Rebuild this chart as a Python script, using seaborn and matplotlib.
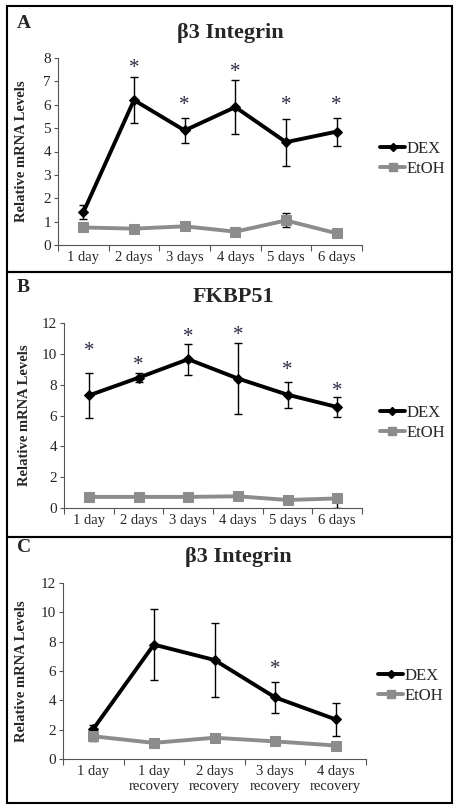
import matplotlib
matplotlib.use("Agg")
import matplotlib.pyplot as plt
from matplotlib.patches import Rectangle
from matplotlib.lines import Line2D
import seaborn as sns
import numpy as np

sns.set_style("white")
plt.rcParams['font.family'] = ['Liberation Serif', 'DejaVu Serif']

# ---- data ----
days_6 = ["1 day", "2 days", "3 days", "4 days", "5 days", "6 days"]
days_rec = ["1 day", "1 day\nrecovery", "2 days\nrecovery", "3 days\nrecovery", "4 days\nrecovery"]

# Panel A: beta3 integrin, time course
a_dex = [1.4, 6.2, 4.9, 5.9, 4.4, 4.85]
a_dex_err = [0.3, 1.0, 0.55, 1.15, 1.0, 0.6]
a_etoh = [0.75, 0.7, 0.8, 0.57, 1.05, 0.5]
a_etoh_err = [0.0, 0.0, 0.0, 0.0, 0.3, 0.0]
a_stars = [None, 7.8, 6.2, 7.6, 6.2, 6.2]

# Panel B: FKBP51, time course
b_dex = [7.3, 8.45, 9.65, 8.4, 7.35, 6.55]
b_dex_err = [1.45, 0.3, 1.0, 2.3, 0.85, 0.63]
b_etoh = [0.72, 0.72, 0.72, 0.76, 0.52, 0.62]
b_etoh_err = [0.0, 0.0, 0.0, 0.0, 0.0, 0.6]
b_etoh_err_up = [0.0, 0.0, 0.0, 0.0, 0.0, 0.1]
b_stars = [10.5, 9.6, 11.45, 11.55, 9.3, 7.9]

# Panel C: beta3 integrin, recovery
c_dex = [2.05, 7.8, 6.75, 4.2, 2.7]
c_dex_err = [0.25, 2.4, 2.5, 1.05, 1.1]
c_etoh = [1.55, 1.1, 1.45, 1.2, 0.92]
c_etoh_err = [0.3, 0.0, 0.0, 0.0, 0.0]
c_stars = [None, None, None, 6.45, None]

GRAY = "#8c8c8c"
STAR = "#2b2b45"

W, H = 458, 811
fig = plt.figure(figsize=(W / 100, H / 100), dpi=100)


def fx(px):
    return px / W


def fy(py):
    return 1 - py / H


def panel(rect_px, letter, title, title_xy, labels, dex, dex_err, etoh, etoh_err,
          stars, ymax, ystep, leg_anchor, ylab_x):
    l, t, r, b = rect_px
    ax = fig.add_axes([fx(l), fy(b), fx(r - l), (b - t) / H])
    x = np.arange(len(labels))

    ax.errorbar(x, dex, yerr=dex_err, fmt="none", ecolor="black", elinewidth=1,
                capsize=3, capthick=1, zorder=2)
    ax.errorbar(x, etoh, yerr=etoh_err, fmt="none", ecolor="black", elinewidth=1,
                capsize=3, capthick=1, zorder=2)
    sns.lineplot(x=x, y=dex, ax=ax, color="black", linewidth=2.8, marker="D",
                 markersize=5, markeredgecolor="black", zorder=3)
    sns.lineplot(x=x, y=etoh, ax=ax, color=GRAY, linewidth=2.8, marker="s",
                 markersize=7, markeredgecolor=GRAY, zorder=4)

    for i, s in enumerate(stars):
        if s is not None:
            ax.annotate("*", (i, s), xytext=(0, -4), textcoords="offset points",
                        ha="center", va="center", fontsize=15, color=STAR)

    ax.set_xlim(-0.5, len(labels) - 0.5)
    ax.set_ylim(0, ymax)
    ax.set_yticks(np.arange(0, ymax + 0.01, ystep))
    ax.set_xticks(x)
    ax.set_xticklabels(labels, fontsize=10.5, linespacing=1.2)
    ax.set_xticks(np.arange(-0.5, len(labels), 1.0), minor=True)
    ax.tick_params(axis="x", which="major", length=0, pad=4)
    ax.tick_params(axis="x", which="minor", length=4, width=0.8, direction="out",
                   bottom=True, color="#555555")
    ax.tick_params(axis="y", length=3, width=0.8, direction="out", left=True,
                   labelsize=11, pad=2, color="#555555")
    for sp in ["top", "right"]:
        ax.spines[sp].set_visible(False)
    for sp in ["left", "bottom"]:
        ax.spines[sp].set_color("#555555")
        ax.spines[sp].set_linewidth(0.8)
    ax.set_ylabel("Relative mRNA Levels", fontsize=10.5, fontweight="bold")
    ax.yaxis.set_label_coords(ylab_x, 0.5)

    handles = [
        Line2D([], [], color="black", linewidth=2.8, marker="D", markersize=4),
        Line2D([], [], color=GRAY, linewidth=2.8, marker="s", markersize=6),
    ]
    ax.legend(handles, ["DEX", "EtOH"], loc="center left", bbox_to_anchor=leg_anchor,
              frameon=False, fontsize=12, handlelength=1.5, handletextpad=0.1,
              borderpad=0, borderaxespad=0, labelspacing=0.2)

    fig.text(fx(title_xy[0]), fy(title_xy[1]), title, ha="center", va="center",
             fontsize=16, fontweight="bold")
    fig.text(fx(17), fy(title_xy[1] - 9), letter, ha="left",
             va="center", fontsize=14, fontweight="bold")
    return ax


# panel boxes
for top, bot in [(6, 272), (272, 537), (537, 803)]:
    fig.add_artist(Rectangle((fx(7), fy(bot)), fx(452 - 7), (bot - top) / H,
                             transform=fig.transFigure, fill=False,
                             edgecolor="black", linewidth=1.5))

panel((58, 58, 362, 245), "A", "\u03b23 Integrin", (230, 33), days_6,
      a_dex, a_dex_err, a_etoh, a_etoh_err, a_stars, 8, 1, (1.06, 0.46), -0.1)
panel((64, 323, 362, 508), "B", "FKBP51", (233, 297), days_6,
      b_dex, b_dex_err, b_etoh, [b_etoh_err, b_etoh_err_up], b_stars, 12, 2,
      (1.06, 0.46), -0.11)
panel((63, 583, 366, 759), "C", "\u03b23 Integrin", (238, 557), days_rec,
      c_dex, c_dex_err, c_etoh, c_etoh_err, c_stars, 12, 2, (1.04, 0.415), -0.115)

fig.savefig("out.png", dpi=100)
